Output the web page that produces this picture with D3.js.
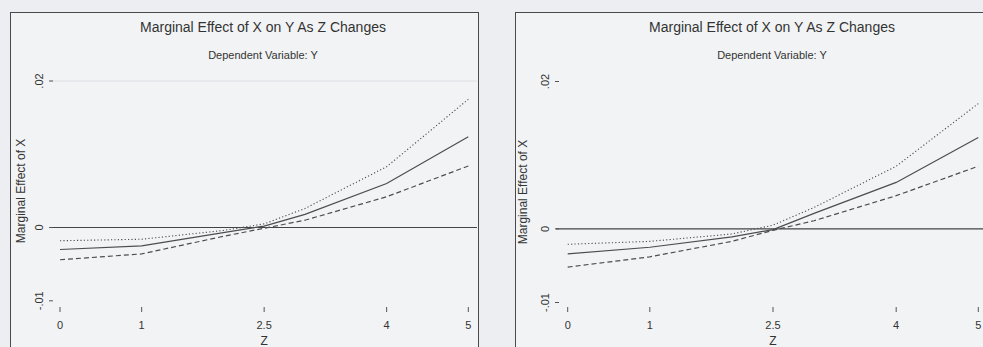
<!DOCTYPE html>
<html>
<head>
<meta charset="utf-8">
<script src="https://cdn.jsdelivr.net/npm/d3@7/dist/d3.min.js"></script>
<style>
  body { margin: 0; background: #eceef1; }
  svg { display: block; font-family: "Liberation Sans", Arial, sans-serif; }
</style>
</head>
<body>
<div id="chart"></div>
<script>
// values
const zValues = [0, 1, 2, 2.5, 3, 4, 5];

const effectLeft = [-0.0030, -0.0025, -0.0007, 0.0002, 0.0018, 0.0060, 0.0124];
const upperLeft  = [-0.0018, -0.0016, -0.0004, 0.0005, 0.0026, 0.0083, 0.0175];
const lowerLeft  = [-0.0044, -0.0036, -0.0012, -0.0001, 0.0010, 0.0042, 0.0084];

const effectRight = [-0.0034, -0.0025, -0.0011, -0.0001, 0.0021, 0.0063, 0.0124];
const upperRight  = [-0.0021, -0.0017, -0.0007, 0.0005, 0.0029, 0.0085, 0.0170];
const lowerRight  = [-0.0052, -0.0038, -0.0017, -0.0002, 0.0011, 0.0045, 0.0085];

const xTicks = [0, 1, 2.5, 4, 5];
const yTicks = [-0.01, 0, 0.02];
const yTickLabels = ["-.01", "0", ".02"];

const titleText = "Marginal Effect of X on Y As Z Changes";
const subtitleText = "Dependent Variable: Y";
const xTitle = "Z";
const yTitle = "Marginal Effect of X";

const width = 983, height = 347;

const svg = d3.select("#chart")
    .append("svg")
    .attr("width", width)
    .attr("height", height);

function drawPanel(p) {
    const g = svg.append("g");

    // frame
    g.append("rect")
        .attr("x", p.frameX + 0.5)
        .attr("y", 12.5)
        .attr("width", p.frameW)
        .attr("height", 360)
        .attr("fill", "#f2f3f5")
        .attr("stroke", "#4a4a4a")
        .attr("stroke-width", 1);

    const x = d3.scaleLinear().domain([0, 5]).range([p.x0, p.x1]);
    const y = d3.scaleLinear().domain([-0.01, 0.02]).range([p.yMin, p.yMax]);

    // titles
    g.append("text")
        .attr("x", p.cx).attr("y", 32)
        .attr("text-anchor", "middle")
        .attr("font-size", 14)
        .attr("fill", "#333")
        .text(titleText);
    g.append("text")
        .attr("x", p.cx).attr("y", 59)
        .attr("text-anchor", "middle")
        .attr("font-size", 11)
        .attr("fill", "#333")
        .text(subtitleText);

    // faint line at the top tick
    if (p.grid) {
        g.append("line")
            .attr("x1", p.lineX1).attr("x2", p.lineX2)
            .attr("y1", y(0.02)).attr("y2", y(0.02))
            .attr("stroke", "#dcdee2").attr("stroke-width", 1);
    }

    // zero reference line
    g.append("line")
        .attr("x1", p.lineX1).attr("x2", p.lineX2)
        .attr("y1", y(0)).attr("y2", y(0))
        .attr("stroke", "#444").attr("stroke-width", 1.1);

    // y axis ticks (rotated labels)
    const yt = g.append("g");
    yt.selectAll("line")
        .data(yTicks)
        .join("line")
        .attr("x1", p.tickX).attr("x2", p.tickX + 4)
        .attr("y1", d => y(d)).attr("y2", d => y(d))
        .attr("stroke", "#555");
    yt.selectAll("text")
        .data(yTicks)
        .join("text")
        .attr("transform", d => `translate(${p.tickX - 6}, ${y(d)}) rotate(-90)`)
        .attr("text-anchor", "middle")
        .attr("font-size", 11)
        .attr("fill", "#333")
        .text((d, i) => yTickLabels[i]);

    g.append("text")
        .attr("transform", `translate(${p.yTitleX}, ${(y(-0.01) + y(0.02)) / 2}) rotate(-90)`)
        .attr("text-anchor", "middle")
        .attr("font-size", 12)
        .attr("fill", "#333")
        .text(yTitle);

    // x axis ticks
    const xt = g.append("g");
    xt.selectAll("line")
        .data(xTicks)
        .join("line")
        .attr("x1", d => x(d)).attr("x2", d => x(d))
        .attr("y1", 307).attr("y2", 312)
        .attr("stroke", "#555");
    xt.selectAll("text")
        .data(xTicks)
        .join("text")
        .attr("x", d => x(d)).attr("y", 329)
        .attr("text-anchor", "middle")
        .attr("font-size", 11)
        .attr("fill", "#333")
        .text(d => d);

    g.append("text")
        .attr("x", x(2.5)).attr("y", 345)
        .attr("text-anchor", "middle")
        .attr("font-size", 12)
        .attr("fill", "#333")
        .text(xTitle);

    // series
    const line = d3.line()
        .x((d, i) => x(zValues[i]))
        .y(d => y(d));

    const series = [
        { values: p.upper, dash: "1.2,2.2", width: 1.1 },
        { values: p.lower, dash: "5,3", width: 1.2 },
        { values: p.effect, dash: null, width: 1.2 }
    ];

    g.selectAll("path.series")
        .data(series)
        .join("path")
        .attr("class", "series")
        .attr("d", d => line(d.values))
        .attr("fill", "none")
        .attr("stroke", "#4d4d4d")
        .attr("stroke-width", d => d.width)
        .attr("stroke-dasharray", d => d.dash);
}

drawPanel({
    frameX: 10, frameW: 468, cx: 263,
    x0: 60, x1: 468.3, yMin: 300.8, yMax: 81,
    lineX1: 50, lineX2: 477, tickX: 49, yTitleX: 25,
    grid: true,
    effect: effectLeft, upper: upperLeft, lower: lowerLeft
});

drawPanel({
    frameX: 515, frameW: 480, cx: 772,
    x0: 567.7, x1: 978.3, yMin: 302.5, yMax: 81.5,
    lineX1: 556, lineX2: 990, tickX: 555, yTitleX: 527,
    grid: false,
    effect: effectRight, upper: upperRight, lower: lowerRight
});
</script>
</body>
</html>
